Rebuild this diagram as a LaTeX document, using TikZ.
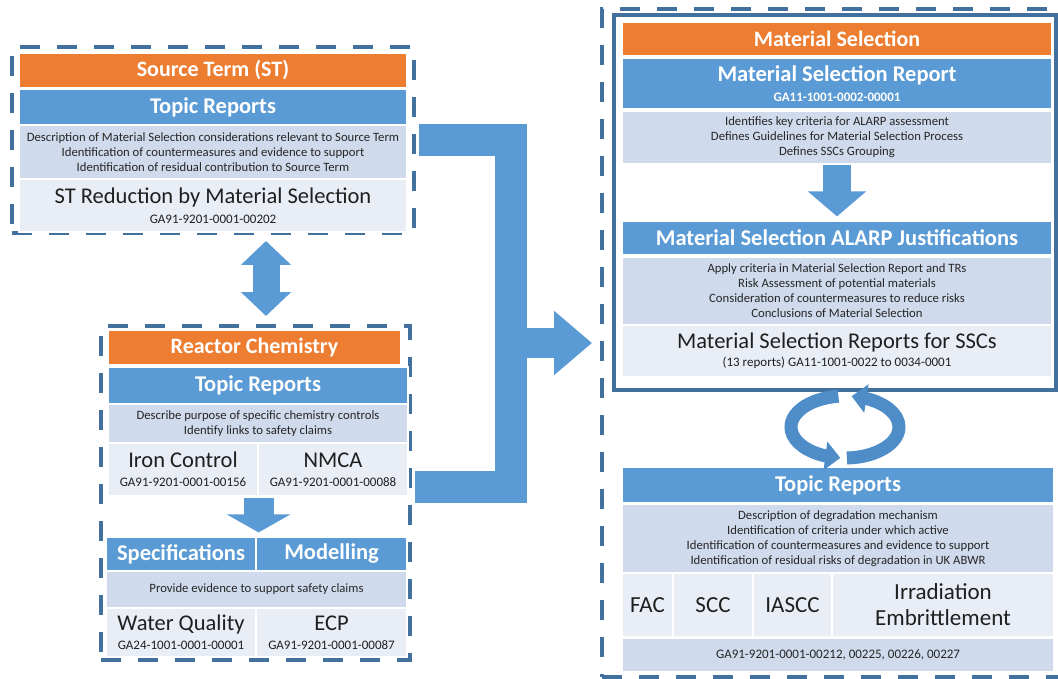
\documentclass[tikz,border=0pt]{standalone}
\usepackage{fontspec}
\setmainfont{Carlito}
\usetikzlibrary{arrows.meta,bending}
\definecolor{msorange}{HTML}{ED7D31}
\definecolor{msblue}{HTML}{5B9BD5}
\definecolor{msring}{HTML}{4F8DC8}
\definecolor{mspale}{HTML}{CFDAEC}
\definecolor{mslight}{HTML}{E9EEF6}
\definecolor{msframe}{HTML}{41719C}
\definecolor{mstext}{HTML}{262626}
\newcommand{\fsz}[2]{\fontsize{#1}{#2}\selectfont}
\newcommand{\idtext}[1]{{\fsz{13}{14}#1}}
\begin{document}
\begin{tikzpicture}[x=1pt,y=-1pt,
	sz/.style 2 args={minimum width=#1pt,minimum height=#2pt},
	frame/.style={draw=msframe,line width=4pt,dash pattern=on 20pt off 17pt,inner sep=0},
	band/.style={draw=white,line width=1.2pt,inner sep=0,align=center},
	head/.style={band,fill=msorange,text=white,font=\bfseries\fsz{22}{24}},
	bar/.style={band,fill=msblue,text=white,font=\bfseries\fsz{22.5}{24}},
	note/.style={band,fill=mspale,text=mstext,font=\fsz{12.7}{15}},
	cell/.style={band,fill=mslight,text=black!88,font=\fsz{22.5}{22}},
	fatarrow/.style n args={3}{msblue,line width=#1pt,-{Triangle[width=#2pt,length=#3pt]}},
	ring/.style={msring,line width=13pt,-{Triangle[width=28pt,length=15pt]}}]
	\useasboundingbox (0,0) rectangle (1058,679);
	\clip (0,0) rectangle (1058,679);

	\node[frame,sz={402}{186}] (stFrame) at (213,140) {};
	\node[head,sz={388}{35}] (stHead) at (213,70.5) {Source Term (ST)};
	\node[bar,sz={388}{36}] (stBar) at (213,107) {Topic Reports};
	\node[note,sz={388}{54}] (stNote) at (213,152) {Description of Material Selection considerations relevant to Source Term\\Identification of countermeasures and evidence to support\\Identification of residual contribution to Source Term};
	\node[cell,sz={388}{53}] (stCell) at (213,205.5) {ST Reduction by Material Selection\\[-2pt]\idtext{GA91-9201-0001-00202}};

	\node[frame,sz={309}{334}] (rcFrame) at (255.5,493) {};
	\node[head,sz={293}{35}] (rcHead) at (254.5,347.5) {Reactor Chemistry};
	\node[bar,sz={300}{37}] (rcBar) at (258,385.5) {Topic Reports};
	\node[note,sz={300}{39}] (rcNote) at (258,423.5) {Describe purpose of specific chemistry controls\\Identify links to safety claims};
	\node[cell,sz={150}{53}] (ironCell) at (183,469.5) {Iron Control\\[-3pt]\idtext{GA91-9201-0001-00156}};
	\node[cell,sz={150}{53}] (nmcaCell) at (333,469.5) {NMCA\\[-3pt]\idtext{GA91-9201-0001-00088}};
	\node[bar,sz={150}{34}] (specBar) at (181,554) {Specifications};
	\node[bar,sz={151}{34}] (modelBar) at (331.5,554) {Modelling};
	\node[note,sz={301}{37}] (evidNote) at (256.5,589.5) {Provide evidence to support safety claims};
	\node[cell,sz={150}{49}] (wqCell) at (181,632.5) {Water Quality\\[-3pt]\idtext{GA24-1001-0001-00001}};
	\node[cell,sz={151}{49}] (ecpCell) at (331.5,632.5) {ECP\\[-3pt]\idtext{GA91-9201-0001-00087}};

	\node[frame,sz={462}{668}] (msOuter) at (833,343) {};
	\node[draw=msframe,line width=4pt,sz={442}{375}] (msBox) at (835,202.5) {};
	\node[head,sz={430}{34}] (msHead) at (837,39) {Material Selection};
	\node[bar,sz={430}{51}] (msBar) at (837,83.5) {Material Selection Report\\[-4pt]\idtext{GA11-1001-0002-00001}};
	\node[note,sz={430}{53}] (msNote) at (837,137.5) {Identifies key criteria for ALARP assessment\\Defines Guidelines for Material Selection Process\\Defines SSCs Grouping};
	\node[bar,sz={430}{34}] (alarpBar) at (837,238) {Material Selection ALARP Justifications};
	\node[note,sz={430}{68}] (alarpNote) at (837,291) {Apply criteria in Material Selection Report and TRs\\Risk Assessment of potential materials\\Consideration of countermeasures to reduce risks\\Conclusions of Material Selection};
	\node[cell,sz={430}{52}] (sscCell) at (837,351) {Material Selection Reports for SSCs\\[-4pt]\idtext{(13 reports) GA11-1001-0022 to 0034-0001}};

	\node[bar,sz={432}{36}] (trBar) at (838,485) {Topic Reports};
	\node[note,sz={432}{69}] (trNote) at (838,538.5) {Description of degradation mechanism\\Identification of criteria under which active\\Identification of countermeasures and evidence to support\\Identification of residual risks of degradation in UK ABWR};
	\node[cell,font=\fsz{23}{26},sz={51}{64}] (facCell) at (647.5,605) {FAC};
	\node[cell,font=\fsz{23}{26},sz={80}{64}] (sccCell) at (713,605) {SCC};
	\node[cell,font=\fsz{23}{26},sz={79}{64}] (iasccCell) at (792.5,605) {IASCC};
	\node[cell,font=\fsz{23}{26},sz={222}{64}] (irrCell) at (943,605) {Irradiation\\Embrittlement};
	\node[note,font=\fsz{13}{14},sz={432}{34}] (gaNote) at (838,655) {GA91-9201-0001-00212, 00225, 00226, 00227};

	\coordinate (stOut) at (419,140);
	\coordinate (rcOut) at (415,487);
	\coordinate (spine) at (511,487);
	\coordinate (loop) at (845,427);

	\draw[msblue,line width=27pt,{Triangle[width=49pt,length=24pt]}-{Triangle[width=49pt,length=24pt]}] ([xshift=53pt,yshift=-6pt]stFrame.south) -- ([xshift=10.5pt,yshift=8pt]rcFrame.north);
	\draw[fatarrow={30}{63}{18}] ([yshift=-1pt]ironCell.south east) -- ([yshift=4pt]specBar.north -| ironCell.south east);
	\draw[fatarrow={28}{57}{25}] (msNote.south) -- ([yshift=4pt]alarpBar.north);
	\draw[msblue,line width=32pt] (stOut) -| (spine) -- (rcOut);
	\draw[fatarrow={30}{62}{38}] (spine |- msOuter.west) -- ([xshift=-8pt]msOuter.west);
	\draw[ring] ([shift={(272:54pt and 31pt)}]loop) arc[start angle=272,end angle=443,x radius=54pt,y radius=31pt];
	\draw[ring] ([shift={(97:54pt and 31pt)}]loop) arc[start angle=97,end angle=265,x radius=54pt,y radius=31pt];
\end{tikzpicture}
\end{document}
